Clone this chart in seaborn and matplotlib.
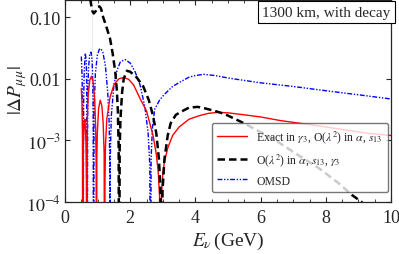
import numpy as np
import pandas as pd
import matplotlib
matplotlib.use("Agg")
import matplotlib.pyplot as plt
import seaborn as sns
from matplotlib.ticker import FixedLocator, FixedFormatter, MultipleLocator, NullLocator

# ---------------- data ----------------
ZERO = 1e-7

red_E = [0.50, 0.52, 0.535, 0.545, 0.555, 0.58, 0.61, 0.64, 0.655, 0.665, 0.68, 0.71,
         0.76, 0.81, 0.86, 0.91, 0.94, 0.955, 0.965, 0.975, 0.99, 1.03, 1.08, 1.13,
         1.17, 1.20, 1.215, 1.225, 1.24, 1.28, 1.38, 1.50, 1.65, 1.80, 1.95, 2.10,
         2.30, 2.50, 2.70, 2.80, 2.86, 2.90, 2.93, 2.96, 3.00, 3.05, 3.15, 3.30, 3.50,
         3.80, 4.10, 4.40, 4.70, 5.00, 5.50, 6.00, 6.60, 7.35, 8.00, 8.70, 9.30, 10.0]
red_P = [7e-3, 4e-3, 1.2e-3, ZERO, 6e-4, 1.8e-3, 2.2e-3, 1.0e-3, 2e-4, ZERO, 2e-3, 5.5e-3,
         9.5e-3, 1.1e-2, 9e-3, 4.5e-3, 1.6e-3, 4e-4, ZERO, 5e-4, 1.3e-3, 3.3e-3, 4.5e-3, 3.6e-3,
         1.9e-3, 6e-4, ZERO, 2e-4, 8e-4, 2.2e-3, 5e-3, 8e-3, 1.0e-2, 1.05e-2, 9.8e-3, 8e-3,
         4.8e-3, 3e-3, 1.2e-3, 6e-4, 3e-4, 1.2e-4, ZERO, 1.3e-4, 3e-4, 4.5e-4, 7.5e-4, 1.2e-3, 1.65e-3,
         2.2e-3, 2.5e-3, 2.75e-3, 2.85e-3, 2.8e-3, 2.6e-3, 2.4e-3, 2.1e-3, 1.85e-3, 1.65e-3, 1.45e-3, 1.3e-3, 1.2e-3]

blk_E = [0.50, 0.60, 0.70, 0.76, 0.80, 0.84, 0.88, 0.94, 1.00, 1.05, 1.10, 1.17, 1.25,
         1.38, 1.46, 1.54, 1.59, 1.62, 1.645, 1.66, 1.675, 1.70, 1.75, 1.80, 1.90, 2.00,
         2.20, 2.40, 2.57, 2.70, 2.80, 2.88, 2.93, 2.96, 2.99, 3.05, 3.15, 3.24, 3.40,
         3.55, 3.80, 4.07, 4.30, 4.60, 4.88, 5.40, 5.80, 6.40, 7.00, 7.80, 8.40, 8.80,
         9.10, 9.20, 9.25, 9.30, 10.0]
blk_P = [0.6, 0.5, 0.35, 0.22, 0.16, 0.125, 0.115, 0.125, 0.145, 0.15, 0.14, 0.10, 0.075,
         0.045, 0.026, 0.013, 6.5e-3, 3e-3, 8e-4, ZERO, 7e-4, 2.2e-3, 6e-3, 1.0e-2, 1.35e-2, 1.3e-2,
         1.05e-2, 7.5e-3, 4.5e-3, 2.5e-3, 1.3e-3, 5e-4, 1.5e-4, ZERO, 1.5e-4, 5e-4, 1.2e-3, 1.9e-3, 2.6e-3,
         2.9e-3, 3.4e-3, 3.5e-3, 3.3e-3, 3.0e-3, 2.7e-3, 2.0e-3, 1.55e-3, 1.05e-3, 6.5e-4, 3.5e-4, 2.0e-4, 1.3e-4,
         1e-4, 3e-5, ZERO, 2e-5, 8e-5]

blu_E = [0.50, 0.52, 0.54, 0.555, 0.57, 0.59, 0.62, 0.65, 0.665, 0.68, 0.695, 0.72,
         0.76, 0.80, 0.83, 0.85, 0.865, 0.875, 0.89, 0.93, 0.99, 1.05, 1.10, 1.16,
         1.24, 1.31, 1.35, 1.37, 1.38, 1.39, 1.42, 1.50, 1.60, 1.70, 1.85, 2.00,
         2.15, 2.30, 2.45, 2.55, 2.60, 2.62, 2.64, 2.68, 2.75, 2.90, 3.05, 3.30,
         3.55, 3.80, 4.00, 4.25, 4.60, 5.00, 5.50, 6.00, 7.00, 8.00, 9.00, 10.0]
blu_P = [0.023, 0.012, 3.5e-3, ZERO, 4e-3, 0.014, 0.026, 0.02, 8e-3, ZERO, 5e-3, 0.015,
         0.026, 0.027, 0.02, 9e-3, 2.5e-3, ZERO, 3e-3, 0.012, 0.024, 0.03, 0.031, 0.027,
         0.016, 6e-3, 2.2e-3, 6e-4, ZERO, 6e-4, 2.5e-3, 8e-3, 0.014, 0.019, 0.0205, 0.018,
         0.013, 8e-3, 3.5e-3, 1.3e-3, 4e-4, ZERO, 5e-4, 1.6e-3, 3.2e-3, 4.5e-3, 5.6e-3, 7.5e-3,
         9e-3, 1.06e-2, 1.13e-2, 1.18e-2, 1.13e-2, 1.03e-2, 9.4e-3, 8.6e-3, 7.5e-3, 6.4e-3, 5.5e-3, 4.7e-3]

grey_E = [0.83, 0.83]
grey_P = [1e-5, 1.0]

labels = [r"Exact in $\gamma_3$, O($\lambda^2$) in $\alpha$, $s_{13}$",
          r"O($\lambda^2$) in $\alpha$, $s_{13}$, $\gamma_3$",
          "OMSD"]

ytick_vals = [1e-4, 1e-3, 1e-2, 1e-1]
ytick_labels = [r"$10^{-4}$", r"$10^{-3}$", "0.01", "0.10"]
xtick_vals = [0, 2, 4, 6, 8, 10]

# ---------------- plotting ----------------
sns.set_style("ticks")
plt.rcParams["font.family"] = ["Liberation Serif", "DejaVu Serif"]
plt.rcParams["mathtext.fontset"] = "stix"

fig = plt.figure(figsize=(3.99, 2.55), dpi=100)
ax = fig.add_axes([0.163, 0.204, 0.817, 0.792])

sns.lineplot(x=grey_E, y=grey_P, ax=ax, color="#a8a8a8", lw=1.0,
             linestyle=(0, (4, 2)), zorder=1, sort=False)
sns.lineplot(x=red_E, y=red_P, ax=ax, color="red", lw=1.0, label=labels[0],
             zorder=3, sort=False)
sns.lineplot(x=blk_E, y=blk_P, ax=ax, color="black", lw=1.8, label=labels[1],
             linestyle=(0, (3, 1.6)), zorder=4, sort=False)
sns.lineplot(x=blu_E, y=blu_P, ax=ax, color="blue", lw=1.0, label=labels[2],
             linestyle=(0, (3.5, 1.2, 1, 1.2, 1, 1.2)), zorder=2, sort=False)

ax.set_yscale("log")
ax.set_xlim(0, 10)
ax.set_ylim(1e-4, 0.19)

ax.yaxis.set_major_locator(FixedLocator(ytick_vals))
ax.yaxis.set_major_formatter(FixedFormatter(ytick_labels))
ax.yaxis.set_minor_locator(NullLocator())
ax.xaxis.set_major_locator(FixedLocator(xtick_vals))
ax.xaxis.set_minor_locator(MultipleLocator(0.5))

ax.tick_params(which="both", direction="in", top=True, right=True, labelsize=13)
ax.tick_params(axis="x", pad=5)
ax.tick_params(axis="y", pad=3)
ax.tick_params(which="major", length=3.5, width=0.8)
ax.tick_params(which="minor", length=2, width=0.6)
for s in ax.spines.values():
    s.set_linewidth(0.9)

ax.set_xlabel(r"$E_\nu\,$(GeV)", fontsize=14, labelpad=3)
ax.set_ylabel(r"$|\Delta P_{\mu\mu}|$", fontsize=14)
ax.yaxis.set_label_coords(-0.112, 0.56)

ax.text(0.999, 0.972, "1300 km, with decay", transform=ax.transAxes, ha="right", va="top",
        fontsize=11, bbox=dict(boxstyle="square,pad=0.3", fc="white", ec="black", lw=0.8),
        zorder=6)

leg = ax.legend(loc="lower right", bbox_to_anchor=(0.991, 0.05), borderaxespad=0,
                fontsize=8.5, handlelength=2.5, labelspacing=0.55, framealpha=0.8,
                edgecolor="#555555", fancybox=True, borderpad=0.45)
leg.set_zorder(5)

fig.savefig("out.png", dpi=100)
